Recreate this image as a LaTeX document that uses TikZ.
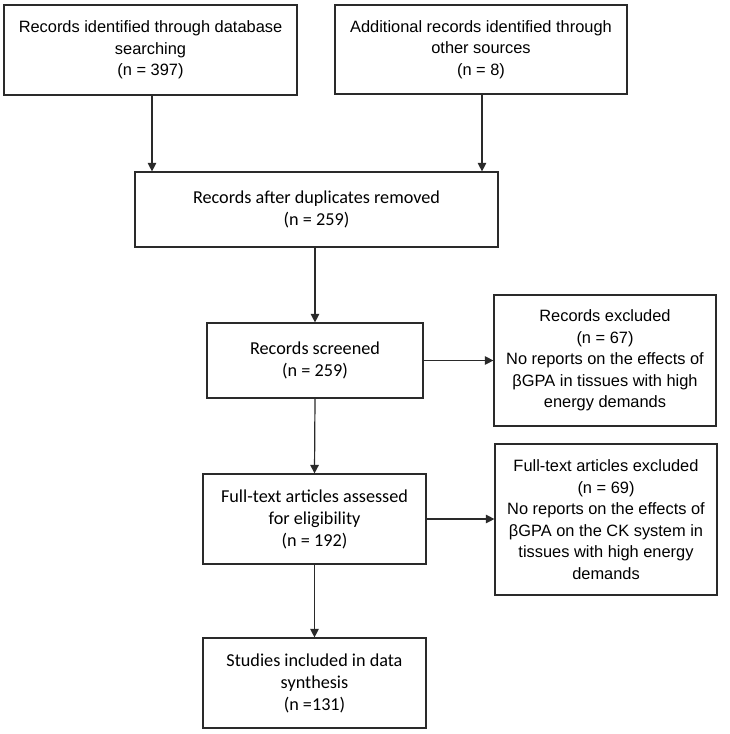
\documentclass[tikz,border=0pt]{standalone}
\usepackage{fontspec}
\setmainfont{Liberation Sans}
\newfontfamily\calib{Carlito}
\usetikzlibrary{arrows.meta}
\definecolor{edge}{HTML}{2A2A2A}
\tikzset{
  box/.style={draw=edge, line width=1.2pt, rectangle, inner sep=0pt, align=center, text=black},
  arial/.style={font=\fontsize{16.4}{21.5}\selectfont},
  cal/.style={font=\calib\fontsize{18.2}{22}\selectfont},
  arr/.style={draw=edge, line width=1.2pt, -{Triangle[length=8.5pt,width=8.5pt]}}
}
\begin{document}
\begin{tikzpicture}[x=1pt,y=-1pt]
\useasboundingbox (0,0) rectangle (730,734);
\node[box,arial,minimum width=293pt,minimum height=90pt] (b1) at (150.5,50) {Records identified through database\\searching\\(n = 397)};
\node[box,arial,minimum width=292pt,minimum height=89pt] (b2) at (481,49.5) {Additional records identified through\\other sources\\(n = 8)};
\node[box,cal,minimum width=363pt,minimum height=75pt] (b3) at (316.5,209.5) {Records after duplicates removed\\(n = 259)};
\node[box,cal,minimum width=216pt,minimum height=75pt] (b4) at (315,360.5) {Records screened\\(n = 259)};
\node[box,arial,minimum width=222pt,minimum height=131pt] (b5) at (605,360.5) {Records excluded\\(n = 67)\\No reports on the effects of\\βGPA in tissues with high\\energy demands};
\node[box,cal,minimum width=223pt,minimum height=90pt] (b6) at (314.5,519) {Full-text articles assessed\\for eligibility\\(n = 192)};
\node[box,arial,minimum width=222pt,minimum height=151pt] (b7) at (606,519.5) {Full-text articles excluded\\(n = 69)\\No reports on the effects of\\βGPA on the CK system in\\tissues with high energy\\demands};
\node[box,cal,minimum width=223pt,minimum height=90pt] (b8) at (314.5,683) {Studies included in data\\synthesis\\(n =131)};
\coordinate (a1) at (152,95);
\coordinate (a2) at (482,94);
\draw[arr] (a1) -- (a1 |- b3.north);
\draw[arr] (a2) -- (a2 |- b3.north);
\draw[arr] (b4.north |- b3.south) -- (b4.north);
\draw[arr] (b4.east) -- (b4.east -| b5.west);
\draw[arr] (b4.south) -- (b6.north);
\draw[arr] (b6.east) -- (b6.east -| b7.west);
\draw[arr] (b6.south) -- (b8.north);
\end{tikzpicture}
\end{document}
